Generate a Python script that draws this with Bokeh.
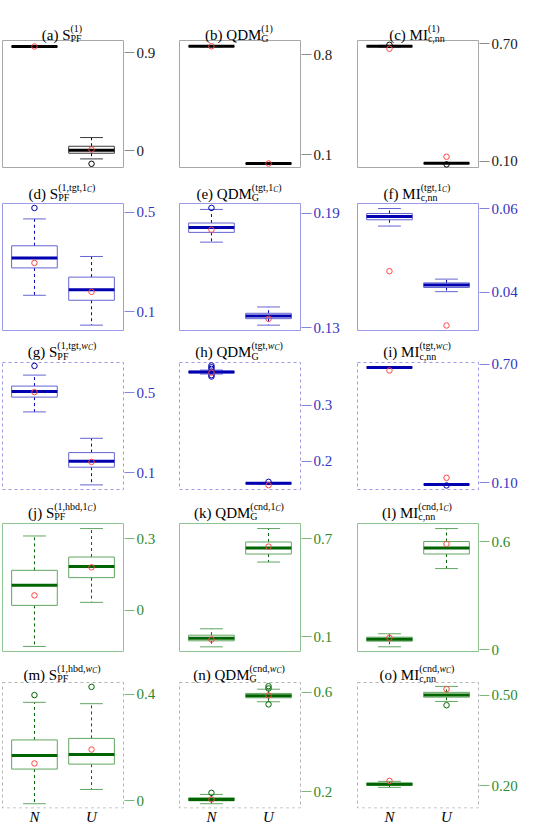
import re

from bokeh.core.properties import value
from bokeh.embed import file_html
from bokeh.layouts import column, row
from bokeh.models import FixedTicker, LinearAxis, NumeralTickFormatter, Range1d
from bokeh.plotting import figure
from bokeh.resources import INLINE

# ---------------------------------------------------------------- data
panel_tags = list("abcdefghijklmno")
measure_names = ["S", "QDM", "MI"]
measure_subs = ["PF", "G", "c,nn"]
# [x] = italic at script size, {x} = italic at second script level
measure_sups = [
    "(1)", "(1)", "(1)",
    "(1,tgt,1{C})", "(tgt,1{C})", "(tgt,1{C})",
    "(1,tgt,[w]{C})", "(tgt,[w]{C})", "(tgt,[w]{C})",
    "(1,hbd,1{C})", "(cnd,1{C})", "(cnd,1{C})",
    "(1,hbd,[w]{C})", "(cnd,[w]{C})", "(cnd,[w]{C})",
]
groups = ["N", "U"]

# per panel: [N, U]
box_q1 = [
    [0.955, -0.022], [0.858, 0.037], [0.686, 0.090],
    [0.277, 0.147], [0.1799, 0.1348], [0.0573, 0.0411],
    [0.479, 0.1285], [0.3575, 0.1600], [0.684, 0.0912],
    [0.0213, 0.1377], [0.0752, 0.6077], [0.0478, 0.531],
    [0.1192, 0.1378], [0.164, 0.5785], [0.2009, 0.4943],
]
box_median = [
    [0.958, 0.006], [0.860, 0.039], [0.688, 0.091],
    [0.317, 0.189], [0.1825, 0.1362], [0.0581, 0.0417],
    [0.507, 0.158], [0.359, 0.1610], [0.685, 0.0919],
    [0.1054, 0.184], [0.0911, 0.6446], [0.0589, 0.5644],
    [0.1702, 0.1739], [0.1697, 0.5865], [0.2046, 0.5017],
]
box_q3 = [
    [0.962, 0.042], [0.862, 0.041], [0.690, 0.092],
    [0.366, 0.240], [0.1848, 0.1376], [0.0588, 0.0422],
    [0.534, 0.2015], [0.3605, 0.1620], [0.686, 0.0926],
    [0.1684, 0.2243], [0.1096, 0.6815], [0.070, 0.600],
    [0.2287, 0.2346], [0.176, 0.596], [0.2086, 0.5103],
]
whisker_low = [
    [0.950, -0.074], [0.856, 0.035], [0.684, 0.089],
    [0.167, 0.047], [0.1748, 0.1314], [0.0558, 0.0401],
    [0.405, 0.040], [0.3555, 0.1595], [0.683, 0.0905],
    [-0.151, 0.034], [0.0382, 0.5585], [0.0167, 0.450],
    [-0.0112, 0.0425], [0.1522, 0.5625], [0.1943, 0.480],
]
whisker_high = [
    [0.966, 0.122], [0.864, 0.043], [0.692, 0.093],
    [0.474, 0.323], [0.1919, 0.1409], [0.0600, 0.0431],
    [0.589, 0.273], [0.3625, 0.1625], [0.687, 0.0932],
    [0.3126, 0.3437], [0.149, 0.764], [0.0889, 0.672],
    [0.3702, 0.365], [0.1896, 0.613], [0.2143, 0.530],
]
group_mean = [
    [0.958, 0.012], [0.860, 0.039], [0.675, 0.124],
    [0.297, 0.181], [0.1813, 0.1347], [0.0450, 0.0320],
    [0.504, 0.155], [0.358, 0.1577], [0.6695, 0.1255],
    [0.0633, 0.181], [0.0832, 0.653], [0.0667, 0.5867],
    [0.1404, 0.1926], [0.1697, 0.588], [0.216, 0.5209],
]
outliers = [
    [[], [-0.119]], [[], []], [[0.695], [0.085]],
    [[0.518], []], [[0.1927], []], [[], []],
    [[0.635], []], [[0.3707, 0.3675, 0.3645, 0.3535, 0.351], [0.1636]], [[], [0.087]],
    [[], []], [[], []], [[], []],
    [[0.3974], [0.4283]], [[0.196], [0.625, 0.616, 0.552]], [[], [0.4674]],
]
y_limits = [
    (-0.153, 1.013), (0.011, 0.900), (0.069, 0.717),
    (0.0254, 0.536), (0.1286, 0.195), (0.0308, 0.0612),
    (0.017, 0.652), (0.150, 0.376), (0.0664, 0.710),
    (-0.1723, 0.365), (0.0096, 0.795), (-0.0094, 0.700),
    (-0.0272, 0.4447), (0.135, 0.640), (0.1257, 0.543),
]
y_ticks = [
    [0, 0.9], [0.1, 0.8], [0.10, 0.70],
    [0.1, 0.5], [0.13, 0.19], [0.04, 0.06],
    [0.1, 0.5], [0.2, 0.3], [0.10, 0.70],
    [0, 0.3], [0.1, 0.7], [0, 0.6],
    [0, 0.4], [0.2, 0.6], [0.20, 0.50],
]
tick_formats = [
    "0.[0]", "0.[0]", "0.00",
    "0.[0]", "0.00", "0.00",
    "0.[0]", "0.[0]", "0.00",
    "0.[0]", "0.[0]", "0.[0]",
    "0.[0]", "0.[0]", "0.00",
]

# ---------------------------------------------------------------- layout / style
FONT = "Liberation Serif"
MAIN_PX, SCRIPT_PX, SUBSCRIPT_PX = 15, 10, 7.5
SUP_RAISE, SUB_DROP, SUBSUB_RAISE = 6.5, 4.0, 4.5
X_LO, X_HI = 0.44, 2.56
BOX_W = 121                      # width of a panel box in px
col_pads = [(1, 53), (1, 54), (1, 66)]
# per row: figure top, figure bottom, panel top, panel bottom, bottom pad, title baseline
row_geom = [
    (0, 172, 40, 167, 0, 34.0),
    (172, 336, 203, 330, 0, 193.3),
    (336, 493, 362, 489, 0, 351.5),
    (493, 658, 523, 651, 0, 512.3),
    (658, 828, 682, 807.5, 20, 674.0),
]
row_dark = ["#000000", "#0000b0", "#0000b0", "#006400", "#006400"]
row_soft = ["#3a3a3a", "#6464d2", "#6464d2", "#62a662", "#62a662"]
row_frame = ["#a8a8a8", "#9a9ae6", "#9a9ae6", "#90c490", "#b4b4b4"]
row_frame_dash = ["solid", "solid", "3 3", "solid", "3 3"]
row_tick_text = ["#1a1a1a", "#3434c4", "#3434c4", "#2e8b2e", "#2e8b2e"]
row_tick_line = ["#8c8c8c", "#8484dc", "#8484dc", "#7cb87c", "#7cb87c"]
MEAN_COLOR = "#ff4545"

# Times-compatible advance widths (per 1000 em) for laying out the titles
REG_W = {" ": 250, "(": 333, ")": 333, ",": 250, ".": 250,
         "a": 444, "b": 500, "c": 444, "d": 500, "e": 444, "f": 333, "g": 500,
         "h": 500, "i": 278, "j": 278, "k": 500, "l": 278, "m": 778, "n": 500,
         "o": 500, "t": 278, "C": 667, "D": 722, "F": 556, "G": 722, "I": 333,
         "M": 889, "P": 556, "Q": 722, "S": 556}
ITA_W = {"w": 667, "C": 667}


def text_width(text, size, style):
    table = ITA_W if style == "italic" else REG_W
    return sum(table.get(ch, 500) for ch in text) * size / 1000.0


def sup_runs(markup):
    runs = []
    for ita, sub, plain in re.findall(r"\[([^\]]+)\]|\{([^}]+)\}|([^\[\{]+)", markup):
        if ita:
            runs.append((ita, SCRIPT_PX, "italic", SUP_RAISE))
        elif sub:
            runs.append((sub, SUBSCRIPT_PX, "italic", SUBSUB_RAISE))
        else:
            runs.append((plain, SCRIPT_PX, "normal", SUP_RAISE))
    return runs


def add_title(p, idx, baseline):
    """Title drawn in pixel coordinates of the frame (x right, y down)."""
    col = idx % 3
    base = f"({panel_tags[idx]}) {measure_names[col]}"
    sups = sup_runs(measure_sups[idx])
    sub = measure_subs[col]
    base_w = text_width(base, MAIN_PX, "normal")
    sup_w = sum(text_width(t, s, st) for t, s, st, _ in sups)
    sub_w = text_width(sub, SCRIPT_PX, "normal")
    total = base_w + max(sup_w, sub_w)
    x0 = 1 + BOX_W / 2.0 - 1.0 - total / 2.0
    runs = [(x0, baseline, base, MAIN_PX, "normal")]
    x = x0 + base_w
    for t, s, st, raise_px in sups:
        runs.append((x, baseline - raise_px, t, s, st))
        x += text_width(t, s, st)
    runs.append((x0 + base_w, baseline + SUB_DROP, sub, SCRIPT_PX, "normal"))
    for rx, ry, t, s, st in runs:
        p.text(x=[rx], y=[ry], text=[t], x_range_name="px", y_range_name="px",
               text_font=value(FONT), text_font_size=value(f"{s}px"),
               text_font_style=st, text_color="#000000",
               text_baseline="alphabetic", text_align="left")


def make_panel(idx):
    r, c = divmod(idx, 3)
    fig_top, fig_bot, box_top, box_bot, pad_bot, baseline = row_geom[r]
    left, right = col_pads[c]
    frame_w = BOX_W + 2
    frame_top, frame_bot = fig_top, fig_bot - pad_bot
    lo, hi = y_limits[idx]
    ppu = (box_bot - box_top) / (hi - lo)
    ppx = BOX_W / (X_HI - X_LO)
    y_range = Range1d(lo - (frame_bot - box_bot) / ppu, hi + (box_top - frame_top) / ppu)
    x_range = Range1d(X_LO - 1.0 / ppx, X_HI + 1.0 / ppx)

    p = figure(width=left + frame_w + right, height=fig_bot - fig_top,
               x_range=x_range, y_range=y_range,
               x_axis_location=None, y_axis_location=None,
               output_backend="svg", toolbar_location=None,
               min_border_left=left, min_border_right=right,
               min_border_top=0, min_border_bottom=pad_bot)
    p.grid.visible = False
    p.outline_line_color = None
    p.background_fill_color = "white"
    p.border_fill_color = "white"
    p.extra_x_ranges = {"px": Range1d(0, frame_w)}
    p.extra_y_ranges = {"px": Range1d(frame_bot - frame_top, 0)}

    yaxis = LinearAxis(ticker=FixedTicker(ticks=y_ticks[idx]),
                       formatter=NumeralTickFormatter(format=tick_formats[idx]))
    yaxis.axis_line_color = None
    yaxis.minor_tick_line_color = None
    yaxis.major_tick_in = 0
    yaxis.major_tick_out = 10
    yaxis.major_tick_line_color = row_tick_line[r]
    yaxis.major_label_standoff = 2
    yaxis.major_label_text_font = FONT
    yaxis.major_label_text_font_size = f"{MAIN_PX}px"
    yaxis.major_label_text_color = row_tick_text[r]
    p.add_layout(yaxis, "right")

    if pad_bot > 0:
        xaxis = LinearAxis(ticker=FixedTicker(ticks=[1, 2]),
                           major_label_overrides={i + 1: g for i, g in enumerate(groups)})
        xaxis.axis_line_color = None
        xaxis.major_tick_line_color = None
        xaxis.minor_tick_line_color = None
        xaxis.major_tick_in = 0
        xaxis.major_tick_out = 0
        xaxis.major_label_standoff = 0
        xaxis.major_label_text_font = FONT
        xaxis.major_label_text_font_size = f"{MAIN_PX}px"
        xaxis.major_label_text_font_style = "italic"
        xaxis.major_label_text_color = "#000000"
        p.add_layout(xaxis, "below")

    # panel box
    p.quad(left=[X_LO], right=[X_HI], bottom=[lo], top=[hi], fill_color=None,
           line_color=row_frame[r], line_width=1, line_dash=row_frame_dash[r])

    xs = [i + 1 for i in range(len(groups))]
    q1, q3, md = box_q1[idx], box_q3[idx], box_median[idx]
    wl, wh = whisker_low[idx], whisker_high[idx]
    dark, soft = row_dark[r], row_soft[r]

    # whiskers
    p.segment(x0=xs, y0=q3, x1=xs, y1=wh, line_color=dark, line_width=1, line_dash="3 3")
    p.segment(x0=xs, y0=q1, x1=xs, y1=wl, line_color=dark, line_width=1, line_dash="3 3")
    # staples
    p.segment(x0=[x - 0.2 for x in xs], y0=wh, x1=[x + 0.2 for x in xs], y1=wh,
              line_color=soft, line_width=1)
    p.segment(x0=[x - 0.2 for x in xs], y0=wl, x1=[x + 0.2 for x in xs], y1=wl,
              line_color=soft, line_width=1)
    # boxes
    p.quad(left=[x - 0.4 for x in xs], right=[x + 0.4 for x in xs], bottom=q1, top=q3,
           fill_color=None, line_color=soft, line_width=1)
    # medians
    p.segment(x0=[x - 0.4 for x in xs], y0=md, x1=[x + 0.4 for x in xs], y1=md,
              line_color=dark, line_width=3)
    # outliers
    ox, oy = [], []
    for x, pts in zip(xs, outliers[idx]):
        ox += [x] * len(pts)
        oy += pts
    if ox:
        p.scatter(x=ox, y=oy, marker="circle", size=5.5, fill_color=None,
                  line_color=dark, line_width=1)
    # group means
    p.scatter(x=xs, y=group_mean[idx], marker="circle", size=5.5, fill_color=None,
              line_color=MEAN_COLOR, line_width=1)

    add_title(p, idx, baseline - frame_top)
    return p


panels = [make_panel(i) for i in range(len(panel_tags))]
layout = column([row(panels[3 * k:3 * k + 3]) for k in range(5)])

open("out.html", "w").write(file_html(layout, INLINE))
